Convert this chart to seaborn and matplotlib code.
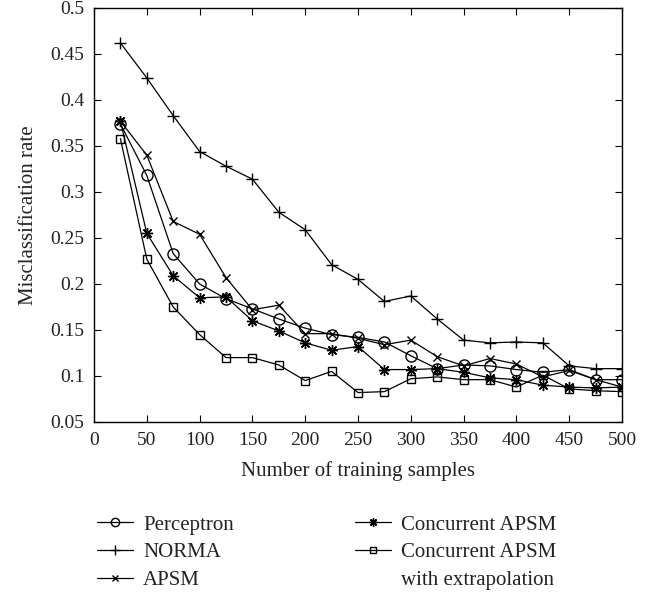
import pandas as pd
import matplotlib
matplotlib.use("Agg")
import matplotlib.pyplot as plt
from matplotlib.lines import Line2D
import seaborn as sns

# values
samples = [25, 50, 75, 100, 125, 150, 175, 200, 225, 250,
           275, 300, 325, 350, 375, 400, 425, 450, 475, 500]
perceptron = [0.374, 0.318, 0.233, 0.200, 0.184, 0.173, 0.162, 0.152, 0.145, 0.142,
              0.137, 0.122, 0.108, 0.112, 0.111, 0.107, 0.104, 0.107, 0.096, 0.096]
norma = [0.462, 0.424, 0.383, 0.344, 0.328, 0.314, 0.278, 0.259, 0.221, 0.205,
         0.181, 0.187, 0.162, 0.139, 0.136, 0.137, 0.136, 0.111, 0.108, 0.108]
apsm = [0.377, 0.340, 0.268, 0.254, 0.207, 0.172, 0.177, 0.146, 0.146, 0.141,
        0.134, 0.139, 0.121, 0.111, 0.119, 0.113, 0.099, 0.106, 0.096, 0.088]
conc_apsm = [0.377, 0.255, 0.209, 0.185, 0.186, 0.160, 0.149, 0.136, 0.128, 0.132,
             0.107, 0.107, 0.108, 0.104, 0.098, 0.096, 0.090, 0.088, 0.087, 0.088]
conc_extrap = [0.358, 0.227, 0.175, 0.145, 0.120, 0.120, 0.112, 0.095, 0.105, 0.082,
               0.083, 0.097, 0.099, 0.096, 0.096, 0.088, 0.101, 0.086, 0.084, 0.083]

x_ticks = list(range(0, 501, 50))
y_ticks = [0.05, 0.1, 0.15, 0.2, 0.25, 0.3, 0.35, 0.4, 0.45, 0.5]
y_labels = ["0.05", "0.1", "0.15", "0.2", "0.25", "0.3", "0.35", "0.4", "0.45", "0.5"]

series = [
    ("Perceptron", perceptron, dict(marker="o", markersize=8, markerfacecolor="none")),
    ("NORMA", norma, dict(marker="+", markersize=9)),
    ("APSM", apsm, dict(marker="x", markersize=6)),
    ("Concurrent APSM", conc_apsm, dict(marker=(8, 2, 0), markersize=8)),
    ("Concurrent APSM with extrapolation", conc_extrap,
     dict(marker="s", markersize=6, markerfacecolor="none")),
]

sns.set_style("ticks")
plt.rcParams["font.family"] = ["Liberation Serif", "DejaVu Serif"]
plt.rcParams["xtick.direction"] = "in"
plt.rcParams["ytick.direction"] = "in"

fig = plt.figure(figsize=(6.54, 5.92), dpi=100)
ax = fig.add_axes([94 / 654, 1 - 422 / 592, 528 / 654, 414 / 592])

for name, vals, style in series:
    df = pd.DataFrame({"samples": samples, "rate": vals})
    sns.lineplot(data=df, x="samples", y="rate", ax=ax, color="black",
                 linewidth=0.9, markeredgewidth=1.0, markeredgecolor="black",
                 label=None, legend=False, **style)

ax.set_xlim(0, 500)
ax.set_ylim(0.05, 0.5)
ax.set_xticks(x_ticks)
ax.set_yticks(y_ticks)
ax.set_yticklabels(y_labels)
ax.tick_params(labelsize=14, length=5, width=0.8, top=True, right=True, pad=7,
               color="black", labelcolor="#222222")
for sp in ax.spines.values():
    sp.set_linewidth(1.0)
    sp.set_color("black")
ax.set_xlabel("Number of training samples", fontsize=15, labelpad=9, color="#222222")
ax.set_ylabel("Misclassification rate", fontsize=15, labelpad=9, color="#222222")

# legend: the last label spans two lines, second line gets an empty handle
handles = []
labels = []
for name, vals, style in series:
    h = Line2D([], [], color="black", linewidth=0.9, markeredgecolor="black",
               markeredgewidth=1.0, **{**style, "markersize": style["markersize"] * 0.75})
    handles.append(h)
    labels.append(name.replace(" with extrapolation", ""))
handles.append(Line2D([], [], linestyle="none"))
labels.append("with extrapolation")

fig.legend(handles, labels, ncol=2, loc="upper left",
           bbox_to_anchor=(97 / 654, 1 - 515 / 592), frameon=False,
           fontsize=15, handlelength=1.73, handletextpad=0.48,
           columnspacing=5.8, labelspacing=0.39, borderpad=0, borderaxespad=0,
           labelcolor="#222222")

fig.savefig("out.png", dpi=100)
